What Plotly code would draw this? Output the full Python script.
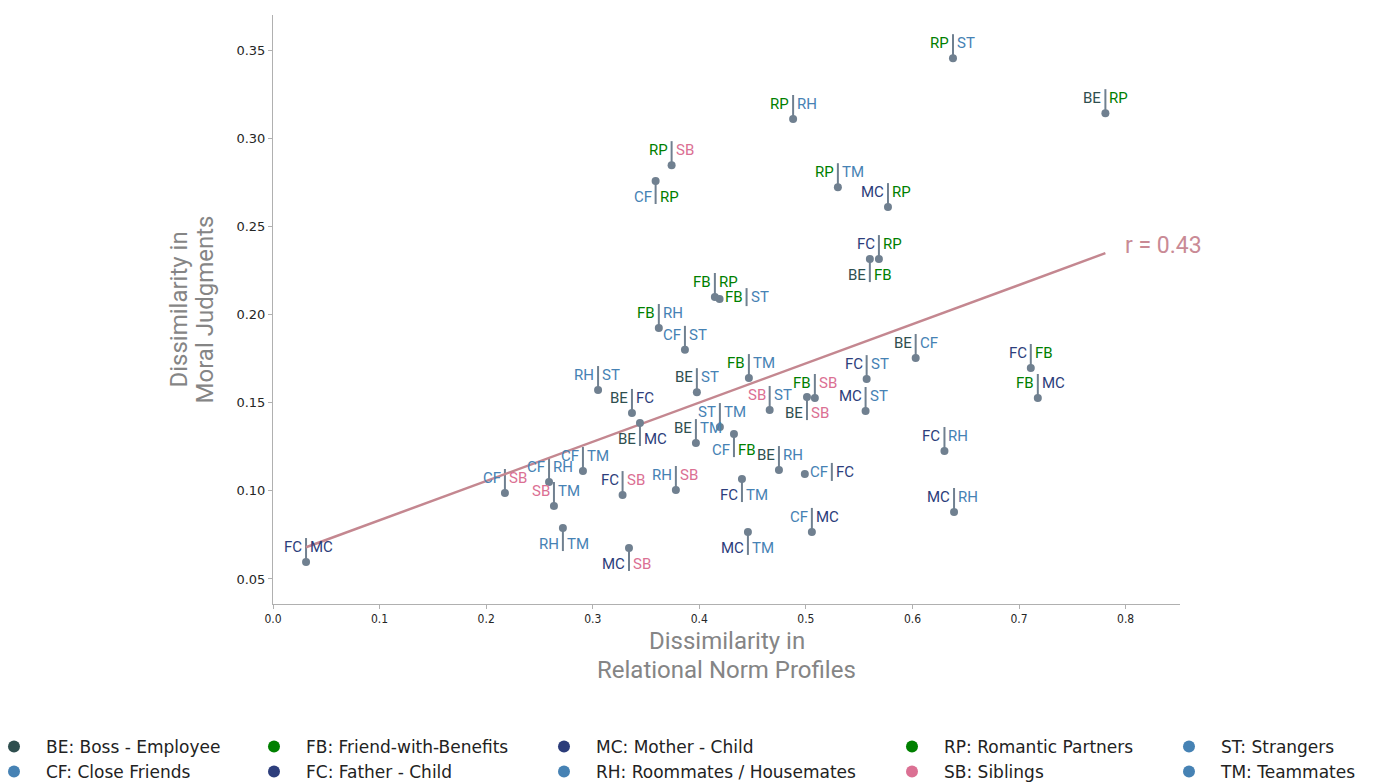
import numpy as np
import plotly.graph_objects as go

# Relationship types: code, full name, colour
rel_codes = ["BE", "CF", "FB", "FC", "MC", "RH", "RP", "SB", "ST", "TM"]
rel_names = ["Boss - Employee", "Close Friends", "Friend-with-Benefits", "Father - Child",
             "Mother - Child", "Roommates / Housemates", "Romantic Partners", "Siblings",
             "Strangers", "Teammates"]
rel_colors = ["#2f4f4f", "#4682b4", "#008000", "#2d3e7c", "#2b3c7a",
              "#4682b4", "#008000", "#db7093", "#4682b4", "#4682b4"]

# Pairwise dissimilarities between relationship types
pair_a = ["RP", "BE", "RP", "RP", "CF", "RP", "MC", "FC", "BE", "FB",
          "FB", "FB", "CF", "BE", "FC", "FB", "FC", "MC", "FB", "RH",
          "BE", "BE", "SB", "FB", "BE", "BE", "ST", "BE", "CF", "BE",
          "CF", "FC", "RH", "FC", "CF", "CF", "CF", "SB", "RH", "FC",
          "MC", "FC", "MC", "CF", "MC"]
pair_b = ["ST", "RP", "RH", "SB", "RP", "TM", "RP", "RP", "FB", "RP",
          "ST", "RH", "ST", "CF", "FB", "MC", "ST", "ST", "TM", "ST",
          "ST", "FC", "ST", "SB", "SB", "MC", "TM", "TM", "FB", "RH",
          "FC", "TM", "SB", "SB", "TM", "RH", "SB", "TM", "TM", "MC",
          "SB", "RH", "RH", "MC", "TM"]
norm_diss = [0.638, 0.781, 0.488, 0.374, 0.359, 0.530, 0.577, 0.5685, 0.560, 0.4146,
             0.419, 0.362, 0.3865, 0.603, 0.711, 0.7176, 0.557, 0.556, 0.4465, 0.305,
             0.3977, 0.3368, 0.466, 0.5084, 0.501, 0.3443, 0.4193, 0.3968, 0.4325, 0.4747,
             0.499, 0.440, 0.378, 0.328, 0.2908, 0.259, 0.2176, 0.2636, 0.272, 0.031,
             0.334, 0.630, 0.639, 0.5056, 0.4456]
moral_diss = [0.3455, 0.3143, 0.311, 0.2848, 0.2758, 0.2723, 0.261, 0.2315, 0.2315, 0.210,
              0.2088, 0.1924, 0.180, 0.1754, 0.1697, 0.1527, 0.1634, 0.1453, 0.164, 0.1572,
              0.156, 0.1442, 0.1459, 0.1527, 0.1532, 0.1385, 0.1362, 0.1271, 0.1322, 0.1118,
              0.1096, 0.1067, 0.1005, 0.0976, 0.1113, 0.105, 0.0988, 0.0914, 0.0789, 0.0596,
              0.0676, 0.1226, 0.088, 0.0767, 0.0767]
label_side = ["up", "up", "up", "up", "down", "up", "up", "up", "down", "up",
              "right", "up", "up", "up", "up", "up", "up", "up", "up", "up",
              "up", "up", "up", "up", "down", "down", "up", "up", "down", "up",
              "right", "down", "up", "up", "up", "up", "up", "up", "down", "up",
              "down", "up", "up", "up", "down"]

# Reported Pearson correlation between the two dissimilarity measures
reported_r = 0.43

x_ticks = [0.0, 0.1, 0.2, 0.3, 0.4, 0.5, 0.6, 0.7, 0.8]
y_ticks = [0.05, 0.10, 0.15, 0.20, 0.25, 0.30, 0.35]

x_title_lines = ["Dissimilarity in", "Relational Norm Profiles"]
y_title_lines = ["Dissimilarity in", "Moral Judgments"]

color_of = dict(zip(rel_codes, rel_colors))
DOT = "#708090"
LINE = "#c48790"
LABEL_FONT = "Roboto"

fig = go.Figure()

# Least-squares fit line across the observed range
xa = np.array(norm_diss)
ya = np.array(moral_diss)
slope, intercept = np.polyfit(xa, ya, 1)
fit_x = np.array([xa.min(), xa.max()])
fit_y = intercept + slope * fit_x
fig.add_trace(go.Scatter(x=fit_x, y=fit_y, mode="lines",
                         line=dict(color=LINE, width=2.5), showlegend=False,
                         hoverinfo="skip"))

# Stems and two-coloured pair labels
shapes = []
annotations = []
for a, b, x, y, side in zip(pair_a, pair_b, norm_diss, moral_diss, label_side):
    if side == "up":
        dx, dy, s0, s1 = 0, 15, 0, 24
    elif side == "down":
        dx, dy, s0, s1 = 0, -16, 0, -23
    else:
        dx, dy, s0, s1 = 27, 2, -7, 11
    shapes.append(dict(type="line", xref="x", yref="y", xsizemode="pixel", ysizemode="pixel",
                       xanchor=x, yanchor=y, x0=dx, x1=dx, y0=s0, y1=s1,
                       line=dict(color=DOT, width=2), layer="below"))
    annotations.append(dict(x=x, y=y, xref="x", yref="y", text=a, showarrow=False,
                            xanchor="right", yanchor="middle", xshift=dx - 3, yshift=dy,
                            borderpad=0, font=dict(family=LABEL_FONT, size=15, color=color_of[a])))
    annotations.append(dict(x=x, y=y, xref="x", yref="y", text=b, showarrow=False,
                            xanchor="left", yanchor="middle", xshift=dx + 3, yshift=dy,
                            borderpad=0, font=dict(family=LABEL_FONT, size=15, color=color_of[b])))

# Correlation label at the end of the fit line
annotations.append(dict(x=fit_x[-1], y=fit_y[-1], xref="x", yref="y",
                        text=f"r = {reported_r:.2f}", showarrow=False, xanchor="left",
                        yanchor="middle", xshift=18, yshift=8,
                        font=dict(family=LABEL_FONT, size=23, color="#c98a95")))

# Axis titles, one annotation per line for tight line spacing
TITLE_FONT = dict(family="Roboto", size=24, color="#858585")
for line_text, ypos in zip(x_title_lines, [-0.0628, -0.112]):
    annotations.append(dict(x=0.5, y=ypos, xref="paper", yref="paper", text=line_text,
                            showarrow=False, xanchor="center", yanchor="middle",
                            font=TITLE_FONT))
for line_text, xpos in zip(y_title_lines, [-0.1047, -0.075]):
    annotations.append(dict(x=xpos, y=0.5, xref="paper", yref="paper", text=line_text,
                            showarrow=False, xanchor="center", yanchor="middle",
                            textangle=-90, font=TITLE_FONT))

# Data points
fig.add_trace(go.Scatter(x=norm_diss, y=moral_diss, mode="markers",
                         marker=dict(color=DOT, size=8),
                         text=[f"{a}|{b}" for a, b in zip(pair_a, pair_b)],
                         showlegend=False))

# Legend: five columns of two entries
col_pairs = [(0, 1), (2, 3), (4, 5), (6, 7), (8, 9)]
col_text_px = [47, 307, 597, 945, 1222]
PLOT_L, PLOT_W = 273, 907
ITEM_W = 54
legend_layout = {}
for ci, (i, j) in enumerate(col_pairs):
    lname = "legend" if ci == 0 else f"legend{ci + 1}"
    for k in (i, j):
        fig.add_trace(go.Scatter(x=[None], y=[None], mode="markers",
                                 marker=dict(color=rel_colors[k], size=12),
                                 name=f"{rel_codes[k]}: {rel_names[k]}", legend=lname))
    legend_layout[lname] = dict(x=(col_text_px[ci] - (ITEM_W + 11) - PLOT_L) / PLOT_W,
                                xanchor="left", y=-0.212, yanchor="top", orientation="v",
                                itemwidth=ITEM_W,
                                font=dict(family="DejaVu Sans", size=17, color="#222222"),
                                bgcolor="rgba(0,0,0,0)", borderwidth=0, tracegroupgap=0)

TICK_FONT_X = dict(family="Liberation Sans Narrow, DejaVu Sans Condensed, DejaVu Sans",
                   size=12, color="#262626")
TICK_FONT_Y = dict(family="DejaVu Sans", size=13, color="#262626")

fig.update_layout(
    width=1376, height=782,
    margin=dict(l=273, r=196, t=15, b=178, autoexpand=False),
    plot_bgcolor="white", paper_bgcolor="white",
    shapes=shapes, annotations=annotations,
    xaxis=dict(range=[0, 0.851], tickvals=x_ticks, tickformat=".1f",
               showline=True, linecolor="#b0b0b0", linewidth=1, showgrid=False,
               zeroline=False, ticks="outside", ticklen=4, tickcolor="#b0b0b0",
               tickfont=TICK_FONT_X),
    yaxis=dict(range=[0.0358, 0.370], tickvals=y_ticks, tickformat=".2f",
               showline=True, linecolor="#b0b0b0", linewidth=1, showgrid=False,
               zeroline=False, ticks="outside", ticklen=4, tickcolor="#b0b0b0",
               tickfont=TICK_FONT_Y),
    **legend_layout,
)

fig.write_html("out.html")
